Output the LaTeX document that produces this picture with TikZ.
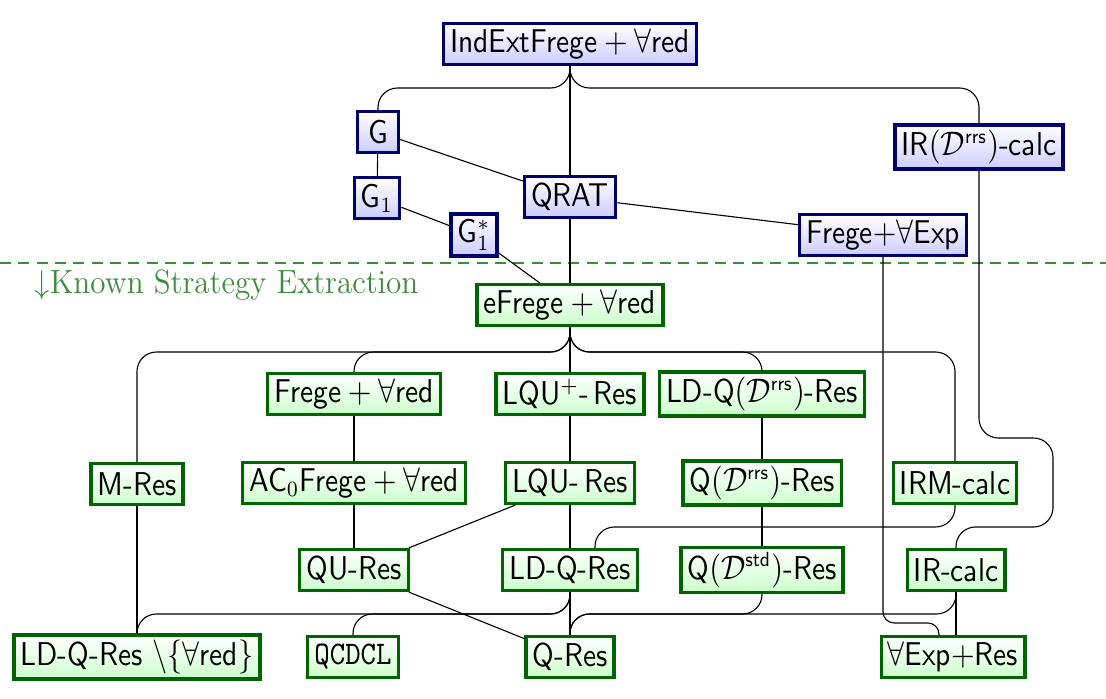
\documentclass[tikz,border=0pt]{standalone}
\usepackage{graphicx}
\usetikzlibrary{calc}
\definecolor{bnavy}{RGB}{0,0,110}
\definecolor{gdark}{RGB}{0,100,0}
\definecolor{kgreen}{RGB}{60,140,60}
\newcommand{\vs}[1]{\scalebox{1}[1.12]{#1}}
\newcommand{\mysup}[1]{^{\mbox{\sffamily\fontsize{6.6}{7}\selectfont #1}}}
\tikzset{
  basebox/.style={draw, line width=1.2pt, font=\sffamily\fontsize{10.6}{12.7}\selectfont, inner xsep=2.4pt, inner ysep=1.8pt, minimum height=14.7pt, minimum width=14.7pt},
  bnode/.style={basebox, draw=bnavy, top color=white, bottom color=blue!20},
  gnode/.style={basebox, draw=gdark, top color=white, bottom color=green!20},
  edge/.style={line width=0.4pt, black},
  bus/.style={edge, rounded corners=7pt},
}
\begin{document}
\begin{tikzpicture}[x=0.36pt, y=-0.36pt]
\useasboundingbox (0,0) rectangle (1106,698);
% dashed separator
\draw[kgreen, line width=0.5pt, dash pattern=on 4pt off 2.6pt] (0,263) -- (1106,263);
\node[anchor=west, text=kgreen, font=\fontsize{11.2}{13}\selectfont, inner sep=0pt] (kse) at (34,285) {\scalebox{1}[1.08]{$\downarrow$Known Strategy Extraction}};
% blue nodes
\node[bnode] (top) at (570,44) {\vs{IndExtFrege${}+{}\forall$red}};
\node[bnode] (G) at (378,132) {\vs{G}};
\node[bnode] (G1) at (377,198) {\vs{G$_1$}};
\node[bnode] (G1s) at (474,235) {\vs{G$_1^*$}};
\node[bnode] (QRAT) at (570,197) {\vs{QRAT}};
\node[bnode] (IRD) at (979,147) {\vs{IR$(\mathcal{D}\mysup{rrs})$-calc}};
\node[bnode] (FEXP) at (883,235) {\vs{Frege$+\forall$Exp}};
% green nodes
\node[gnode] (eF) at (570,305) {\vs{eFrege${}+{}\forall$red}};
\node[gnode] (FRed) at (354,394) {\vs{Frege${}+{}\forall$red}};
\node[gnode] (LQUp) at (570,394) {\vs{LQU$^+$-\,Res}};
\node[gnode] (LDQD) at (762,394) {\vs{LD-Q$(\mathcal{D}\mysup{rrs})$-Res}};
\node[gnode] (MRes) at (137,484) {\vs{M-Res}};
\node[gnode] (AC0) at (354,483) {\vs{AC$_0$Frege${}+{}\forall$red}};
\node[gnode] (LQU) at (570,483) {\vs{LQU-\,Res}};
\node[gnode] (QD) at (762,483) {\vs{Q$(\mathcal{D}\mysup{rrs})$-Res}};
\node[gnode] (IRM) at (955,483) {\vs{IRM-calc}};
\node[gnode] (QU) at (354,570) {\vs{QU-Res}};
\node[gnode] (LDQ) at (570,570) {\vs{LD-Q-Res}};
\node[gnode] (QDstd) at (762,570) {\vs{Q$(\mathcal{D}\mysup{std})$-Res}};
\node[gnode] (IRc) at (956,570) {\vs{IR-calc}};
\node[gnode] (LDQred) at (137,657) {\vs{LD-Q-Res~$\setminus\{\forall$red$\}$}};
\node[gnode] (QCDCL) at (353,657) {\vs{\texttt{QCDCL}}};
\node[gnode] (QRes) at (570,657) {\vs{Q-Res}};
\node[gnode] (AExp) at (953,657) {\vs{$\forall$Exp$+$Res}};
% edges top part
\draw[bus] (top.south) -- (top.south |- 0,88) -| (G.north);
\draw[bus] (top.south) -- (top.south |- 0,88) -| (IRD.north);
\draw[edge] (top) -- (QRAT);
\draw[edge] (G) -- (G1);
\draw[edge] (G) -- (QRAT);
\draw[edge] (G1) -- (G1s);
\draw[edge] (G1s) -- (eF);
\draw[edge] (QRAT) -- (eF);
\draw[edge] (QRAT) -- (FEXP);
% eFrege bus
\draw[bus] (eF.south) -- (eF.south |- 0,352) -| (MRes.north);
\draw[bus] (eF.south) -- (eF.south |- 0,352) -| (FRed.north);
\draw[bus] (eF.south) -- (eF.south |- 0,352) -| (LDQD.north);
\draw[bus] (eF.south) -- (eF.south |- 0,352) -| (IRM.north);
\draw[edge] (eF) -- (LQUp);
% verticals
\draw[edge] (FRed) -- (AC0);
\draw[edge] (AC0) -- (QU);
\draw[edge] (LQUp) -- (LQU);
\draw[edge] (LQU) -- (LDQ);
\draw[edge] (LQU) -- (QU);
\draw[edge] (LDQD) -- (QD);
\draw[edge] (QD) -- (QDstd);
\draw[edge] (MRes) -- (LDQred);
\draw[edge] (LDQ) -- (QRes);
\draw[edge] (QU) -- (QRes);
% IRM to LD-Q-Res
\draw[bus] (IRM.south) -- (IRM.south |- 0,527) -| ($(LDQ.north)+(25,0)$);
% IR(D) to IR-calc
\draw[bus] (IRD.south) -- (IRD.south |- 0,438) -- (1053,438) -- (1053,527) -| (IRc.north);
% bottom buses
\draw[bus] (LDQ.south) -- (LDQ.south |- 0,614) -| (LDQred.north);
\draw[bus] (LDQ.south) -- (LDQ.south |- 0,614) -| (QCDCL.north);
\draw[bus] (QRes.north) -- (QRes.north |- 0,614) -| (QDstd.south);
\draw[bus] (QRes.north) -- (QRes.north |- 0,614) -| (IRc.south);
\draw[edge] (IRc.south) -- (IRc.south |- AExp.north);
\draw[edge, rounded corners=4pt] (FEXP.south) -- (FEXP.south |- 0,623) -| ($(AExp.north)+(-14,0)$);
\end{tikzpicture}
\end{document}
